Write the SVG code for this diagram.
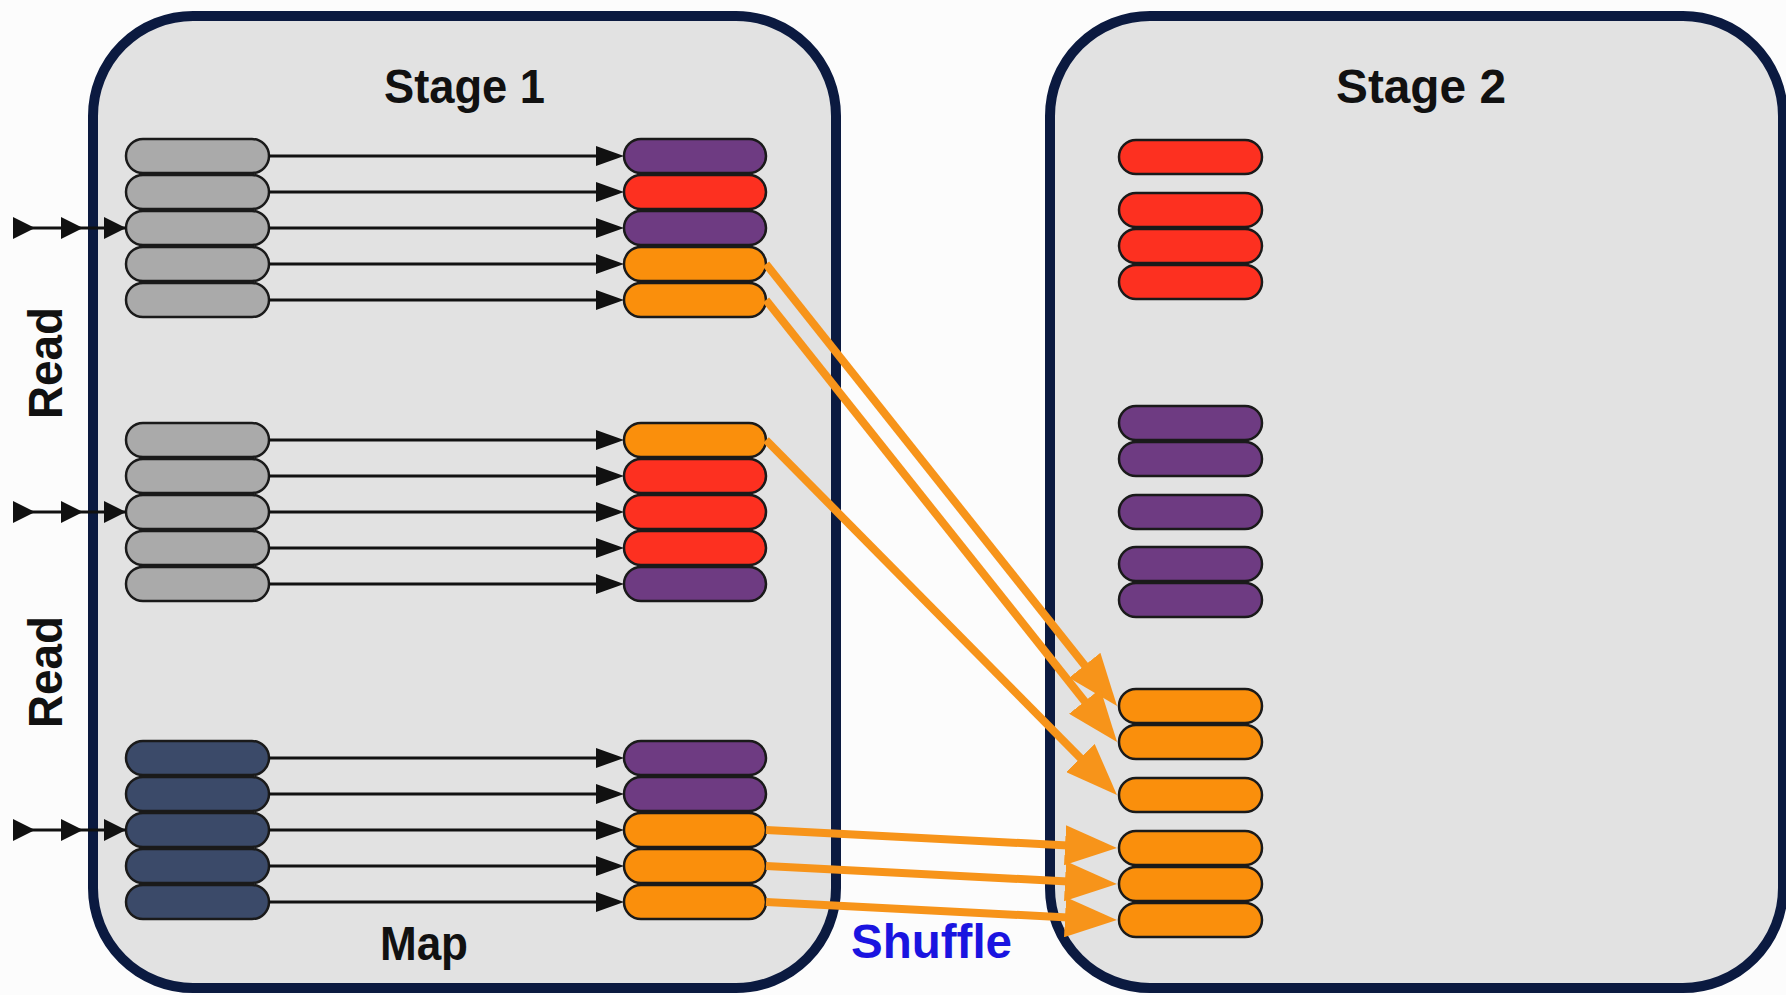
<svg xmlns="http://www.w3.org/2000/svg" width="1786" height="995" viewBox="0 0 1786 995">
  <style>
    .stage { fill: #e2e2e2; stroke: #0b1a40; stroke-width: 10; }
    .pill { stroke: #1a1a1a; stroke-width: 2.5; }
    .gray { fill: #aaaaaa; }
    .navy { fill: #3b4a69; }
    .purple { fill: #6e3b82; }
    .red { fill: #fd3020; }
    .orange { fill: #fa8f0c; }
    .blk { stroke: #111111; stroke-width: 3; fill: none; }
    .org { stroke: #f7941a; stroke-width: 8; fill: none; }
    .title { font-family: "Liberation Sans", Arial, sans-serif; font-weight: bold; font-size: 48px; fill: #111111; }
    .shuffle { fill: #1a14e0; }
  </style>
  <defs>
    <marker id="ah" markerUnits="userSpaceOnUse" markerWidth="28" markerHeight="20" refX="14" refY="10" orient="auto">
      <path d="M0,0 L28,10 L0,20 z" fill="#111111"/>
    </marker>
    <marker id="tri" markerUnits="userSpaceOnUse" markerWidth="22" markerHeight="22" refX="22" refY="11" orient="auto">
      <path d="M0,0 L22,11 L0,22 z" fill="#111111"/>
    </marker>
    <marker id="oh" markerUnits="userSpaceOnUse" markerWidth="52" markerHeight="40" refX="27" refY="20" orient="auto">
      <path d="M0,0 L52,20 L0,40 z" fill="#f7941a"/>
    </marker>
  </defs>
  <rect width="1786" height="995" fill="#fcfcfc"/>

  <g id="stage1">
    <rect class="stage" x="93" y="16" width="743" height="972" rx="100" ry="100"/>
    <text class="title" x="384" y="103" textLength="161" lengthAdjust="spacingAndGlyphs">Stage 1</text>
    <text class="title" x="380" y="960" textLength="88" lengthAdjust="spacingAndGlyphs">Map</text>
  </g>
  <g id="stage2">
    <rect class="stage" x="1050" y="16" width="733" height="972" rx="100" ry="100"/>
    <text class="title" x="1336" y="103" textLength="170" lengthAdjust="spacingAndGlyphs">Stage 2</text>
  </g>

  <g id="read-labels">
    <text class="title" transform="translate(62,363) rotate(-90)" text-anchor="middle" textLength="112" lengthAdjust="spacingAndGlyphs">Read</text>
    <text class="title" transform="translate(62,672) rotate(-90)" text-anchor="middle" textLength="112" lengthAdjust="spacingAndGlyphs">Read</text>
  </g>
  <text id="shuffle-label" class="title shuffle" x="851" y="958" textLength="161" lengthAdjust="spacingAndGlyphs">Shuffle</text>

  <g id="input-partitions-1">
    <rect class="pill gray" x="126" y="139" width="143" height="34" rx="17"/>
    <rect class="pill gray" x="126" y="175" width="143" height="34" rx="17"/>
    <rect class="pill gray" x="126" y="211" width="143" height="34" rx="17"/>
    <rect class="pill gray" x="126" y="247" width="143" height="34" rx="17"/>
    <rect class="pill gray" x="126" y="283" width="143" height="34" rx="17"/>
  </g>
  <g id="input-partitions-2">
    <rect class="pill gray" x="126" y="423" width="143" height="34" rx="17"/>
    <rect class="pill gray" x="126" y="459" width="143" height="34" rx="17"/>
    <rect class="pill gray" x="126" y="495" width="143" height="34" rx="17"/>
    <rect class="pill gray" x="126" y="531" width="143" height="34" rx="17"/>
    <rect class="pill gray" x="126" y="567" width="143" height="34" rx="17"/>
  </g>
  <g id="input-partitions-3">
    <rect class="pill navy" x="126" y="741" width="143" height="34" rx="17"/>
    <rect class="pill navy" x="126" y="777" width="143" height="34" rx="17"/>
    <rect class="pill navy" x="126" y="813" width="143" height="34" rx="17"/>
    <rect class="pill navy" x="126" y="849" width="143" height="34" rx="17"/>
    <rect class="pill navy" x="126" y="885" width="143" height="34" rx="17"/>
  </g>

  <g id="map-output-1">
    <rect class="pill purple" x="624" y="139" width="142" height="34" rx="17"/>
    <rect class="pill red" x="624" y="175" width="142" height="34" rx="17"/>
    <rect class="pill purple" x="624" y="211" width="142" height="34" rx="17"/>
    <rect class="pill orange" x="624" y="247" width="142" height="34" rx="17"/>
    <rect class="pill orange" x="624" y="283" width="142" height="34" rx="17"/>
  </g>
  <g id="map-output-2">
    <rect class="pill orange" x="624" y="423" width="142" height="34" rx="17"/>
    <rect class="pill red" x="624" y="459" width="142" height="34" rx="17"/>
    <rect class="pill red" x="624" y="495" width="142" height="34" rx="17"/>
    <rect class="pill red" x="624" y="531" width="142" height="34" rx="17"/>
    <rect class="pill purple" x="624" y="567" width="142" height="34" rx="17"/>
  </g>
  <g id="map-output-3">
    <rect class="pill purple" x="624" y="741" width="142" height="34" rx="17"/>
    <rect class="pill purple" x="624" y="777" width="142" height="34" rx="17"/>
    <rect class="pill orange" x="624" y="813" width="142" height="34" rx="17"/>
    <rect class="pill orange" x="624" y="849" width="142" height="34" rx="17"/>
    <rect class="pill orange" x="624" y="885" width="142" height="34" rx="17"/>
  </g>

  <g id="stage2-red">
    <rect class="pill red" x="1119" y="140" width="143" height="34" rx="17"/>
    <rect class="pill red" x="1119" y="193" width="143" height="34" rx="17"/>
    <rect class="pill red" x="1119" y="229" width="143" height="34" rx="17"/>
    <rect class="pill red" x="1119" y="265" width="143" height="34" rx="17"/>
  </g>
  <g id="stage2-purple">
    <rect class="pill purple" x="1119" y="406" width="143" height="34" rx="17"/>
    <rect class="pill purple" x="1119" y="442" width="143" height="34" rx="17"/>
    <rect class="pill purple" x="1119" y="495" width="143" height="34" rx="17"/>
    <rect class="pill purple" x="1119" y="547" width="143" height="34" rx="17"/>
    <rect class="pill purple" x="1119" y="583" width="143" height="34" rx="17"/>
  </g>
  <g id="stage2-orange">
    <rect class="pill orange" x="1119" y="689" width="143" height="34" rx="17"/>
    <rect class="pill orange" x="1119" y="725" width="143" height="34" rx="17"/>
    <rect class="pill orange" x="1119" y="778" width="143" height="34" rx="17"/>
    <rect class="pill orange" x="1119" y="831" width="143" height="34" rx="17"/>
    <rect class="pill orange" x="1119" y="867" width="143" height="34" rx="17"/>
    <rect class="pill orange" x="1119" y="903" width="143" height="34" rx="17"/>
  </g>

  <g id="connectors">
    <g id="read-arrows">
      <path class="blk" d="M13,228 L35,228 L83,228 L126,228" marker-mid="url(#tri)" marker-end="url(#tri)"/>
      <path class="blk" d="M13,512 L35,512 L83,512 L126,512" marker-mid="url(#tri)" marker-end="url(#tri)"/>
      <path class="blk" d="M13,830 L35,830 L83,830 L126,830" marker-mid="url(#tri)" marker-end="url(#tri)"/>
    </g>
    <g id="map-arrows">
      <line class="blk" x1="269" y1="156" x2="610" y2="156" marker-end="url(#ah)"/>
      <line class="blk" x1="269" y1="192" x2="610" y2="192" marker-end="url(#ah)"/>
      <line class="blk" x1="269" y1="228" x2="610" y2="228" marker-end="url(#ah)"/>
      <line class="blk" x1="269" y1="264" x2="610" y2="264" marker-end="url(#ah)"/>
      <line class="blk" x1="269" y1="300" x2="610" y2="300" marker-end="url(#ah)"/>
      <line class="blk" x1="269" y1="440" x2="610" y2="440" marker-end="url(#ah)"/>
      <line class="blk" x1="269" y1="476" x2="610" y2="476" marker-end="url(#ah)"/>
      <line class="blk" x1="269" y1="512" x2="610" y2="512" marker-end="url(#ah)"/>
      <line class="blk" x1="269" y1="548" x2="610" y2="548" marker-end="url(#ah)"/>
      <line class="blk" x1="269" y1="584" x2="610" y2="584" marker-end="url(#ah)"/>
      <line class="blk" x1="269" y1="758" x2="610" y2="758" marker-end="url(#ah)"/>
      <line class="blk" x1="269" y1="794" x2="610" y2="794" marker-end="url(#ah)"/>
      <line class="blk" x1="269" y1="830" x2="610" y2="830" marker-end="url(#ah)"/>
      <line class="blk" x1="269" y1="866" x2="610" y2="866" marker-end="url(#ah)"/>
      <line class="blk" x1="269" y1="902" x2="610" y2="902" marker-end="url(#ah)"/>
    </g>
    <g id="shuffle-arrows">
      <line class="org" x1="766" y1="264" x2="1101.5" y2="686.4" marker-end="url(#oh)"/>
      <line class="org" x1="766" y1="300" x2="1101.5" y2="722.4" marker-end="url(#oh)"/>
      <line class="org" x1="766" y1="440" x2="1099.4" y2="777.2" marker-end="url(#oh)"/>
      <line class="org" x1="766" y1="830" x2="1092" y2="846.7" marker-end="url(#oh)"/>
      <line class="org" x1="766" y1="866" x2="1092" y2="882.7" marker-end="url(#oh)"/>
      <line class="org" x1="766" y1="902" x2="1092" y2="918.7" marker-end="url(#oh)"/>
    </g>
  </g>
</svg>
